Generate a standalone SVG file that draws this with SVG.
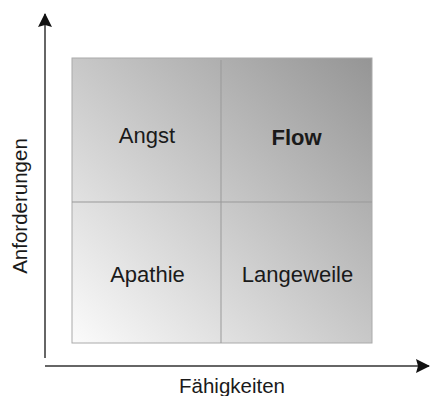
<svg xmlns="http://www.w3.org/2000/svg" width="430" height="396" viewBox="0 0 430 396">
<style>
.lbl{font-family:"Liberation Sans",Arial,sans-serif;font-size:22px;fill:#1a1a1a;text-anchor:middle}
.ax{font-size:20.5px}
.axis{stroke:#333;stroke-width:1.5;fill:none}
.div{stroke:#999;stroke-width:1;fill:none}
</style>
<defs>
<linearGradient id="g" x1="0" y1="1" x2="1" y2="0">
<stop offset="0" stop-color="#fbfbfb"/>
<stop offset="1" stop-color="#959595"/>
</linearGradient>
<marker id="ah2" markerWidth="14" markerHeight="14" refX="13" refY="7" orient="auto" markerUnits="userSpaceOnUse" viewBox="0 0 14 14">
<path d="M0,0 L14,7 L0,14 L2,7 Z" fill="#111"/>
</marker>
</defs>
<g id="matrix">
<rect x="72" y="58" width="300" height="285" fill="url(#g)" stroke="#aaa" stroke-width="1"/>
</g>
<g id="connectors">
<line class="div" x1="221" y1="60" x2="221" y2="343"/>
<line class="div" x1="72" y1="202" x2="372" y2="202"/>
<line class="axis" x1="45" y1="358" x2="45" y2="14" marker-end="url(#ah2)"/>
<line class="axis" x1="45" y1="366" x2="429" y2="366" marker-end="url(#ah2)"/>
</g>
<g id="angst"><text class="lbl" x="147" y="143">Angst</text></g>
<g id="flow"><text class="lbl" x="296.5" y="145" font-weight="bold">Flow</text></g>
<g id="apathie"><text class="lbl" x="147.5" y="282">Apathie</text></g>
<g id="langeweile"><text class="lbl" x="297.5" y="282">Langeweile</text></g>
<g id="xlabel"><text class="lbl ax" x="232" y="393">Fähigkeiten</text></g>
<g id="ylabel"><text class="lbl ax" transform="translate(27,206) rotate(-90)">Anforderungen</text></g>
</svg>
